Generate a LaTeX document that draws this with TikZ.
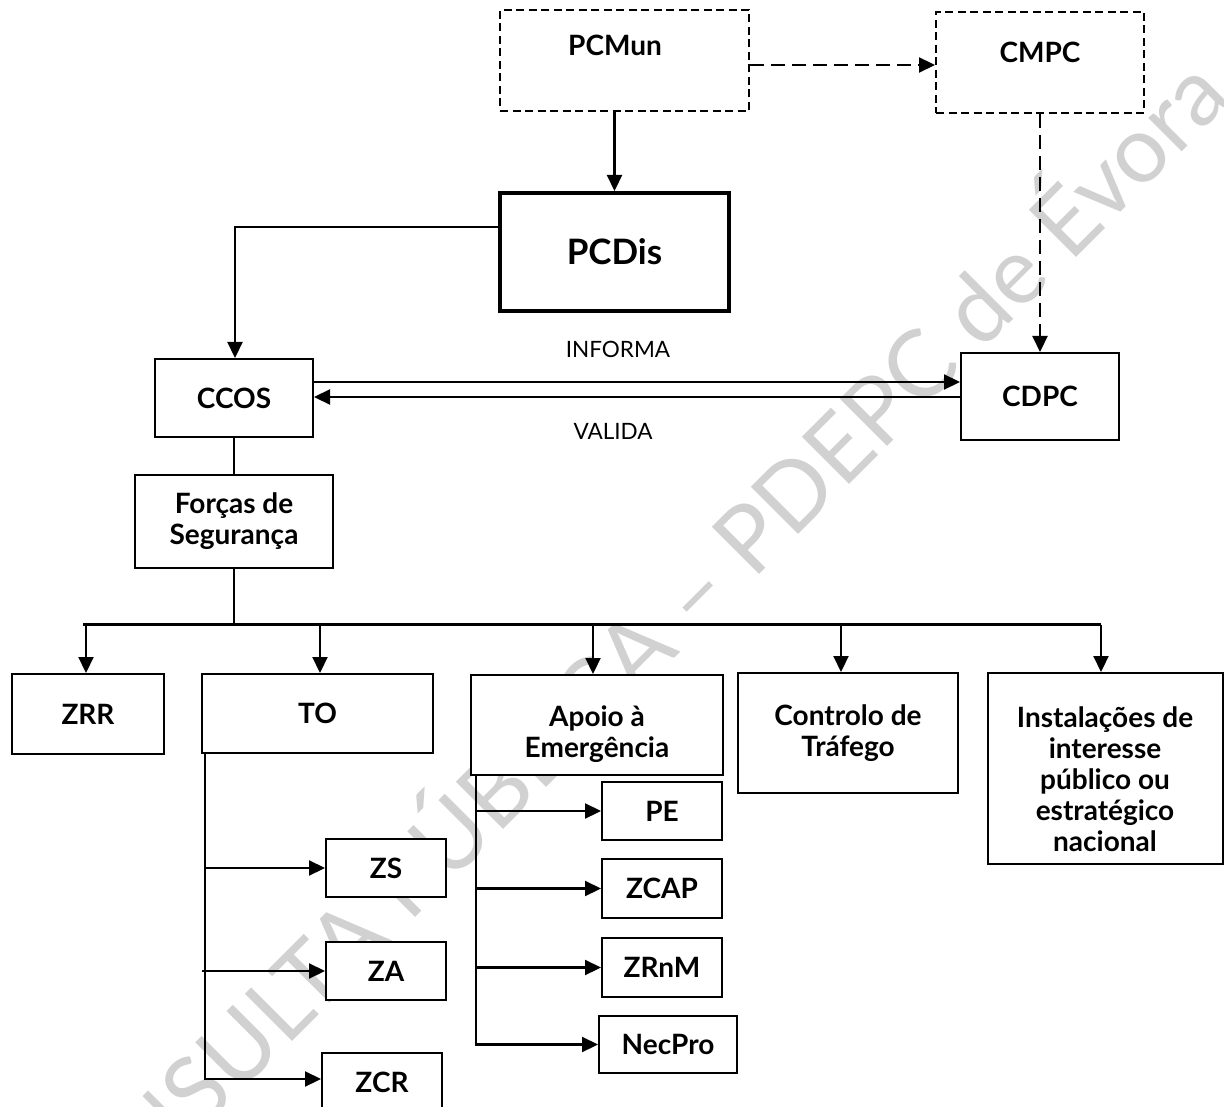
\documentclass[tikz,border=0pt]{standalone}
\usepackage{fontspec}
\setmainfont{Lato}
\usetikzlibrary{arrows.meta,calc}

\tikzset{
  lbl/.style={font=\bfseries\fontsize{28}{31}\selectfont, align=center, inner sep=0pt},
  box/.style={draw, line width=2pt, fill=white, inner sep=0pt, lbl},
  dbox/.style={box, dash pattern=on 8pt off 4.5pt},
  heavybox/.style={box, line width=4pt, font=\bfseries\fontsize{35}{40}\selectfont},
  conn/.style={line width=2.2pt},
  arr/.style={conn, -{Triangle[length=16pt,width=15pt]}},
  darr/.style={arr, dash pattern=on 14pt off 7pt},
  plain/.style={font=\fontsize{22.5}{26}\selectfont, inner sep=0pt},
  watermark/.style={text=black!18, inner sep=0pt, rotate=45}
}

\begin{document}
\begin{tikzpicture}[x=1pt, y=-1pt]
  \useasboundingbox (0,0) rectangle (1224,1107);
  \clip (0,0) rectangle (1224,1107);
  \fill[white] (0,0) rectangle (1224,1107);

  % watermark across the sheet
  \node[watermark] (wm) at (614,659)
    {\resizebox{1665pt}{!}{CONSULTA PÚBLICA – PDEPC de Évora}};

  % top level
  \node[dbox, minimum width=249pt, minimum height=101pt,
        label={[lbl, xshift=-9.5pt, yshift=15.5pt]center:PCMun}] (pcmun) at (624.5,60.5) {};
  \node[dbox, minimum width=208pt, minimum height=101pt,
        label={[lbl, yshift=10.5pt]center:CMPC}] (cmpc) at (1040,62.5) {};
  \node[heavybox, minimum width=229pt, minimum height=118pt] (pcdis) at (614.5,252) {PCDis};

  % coordination level
  \node[box, minimum width=158pt, minimum height=78pt] (ccos) at (234,398) {CCOS};
  \node[box, minimum width=158pt, minimum height=87pt] (cdpc) at (1040,396.5) {CDPC};
  \node[box, minimum width=198pt, minimum height=93pt] (forcas) at (234,521.5) {Forças de\\Segurança};

  % operational areas
  \node[box, minimum width=152pt, minimum height=80pt] (zrr) at (88,714) {ZRR};
  \node[box, minimum width=231pt, minimum height=79pt] (to) at (317.5,713.5) {TO};
  \node[box, minimum width=252pt, minimum height=100pt,
        label={[lbl, yshift=-9.5pt]center:Apoio à\\Emergência}] (apoio) at (597,725) {};
  \node[box, minimum width=220pt, minimum height=120pt] (controlo) at (848,733) {Controlo de\\Tráfego};
  \node[box, minimum width=235pt, minimum height=191pt,
        label={[lbl, yshift=-10.5pt]center:Instalações de\\interesse\\público ou\\estratégico\\nacional}] (instal) at (1105,768.5) {};

  % zones of the theatre of operations
  \node[box, minimum width=120pt, minimum height=58pt] (zs) at (386,868) {ZS};
  \node[box, minimum width=120pt, minimum height=58pt] (za) at (386,971) {ZA};
  \node[box, minimum width=120pt, minimum height=58pt] (zcr) at (382,1082) {ZCR};

  % emergency support
  \node[box, minimum width=120pt, minimum height=58pt] (pe) at (662,811) {PE};
  \node[box, minimum width=120pt, minimum height=59pt] (zcap) at (662,888.5) {ZCAP};
  \node[box, minimum width=120pt, minimum height=59pt] (zrnm) at (662,967.5) {ZRnM};
  \node[box, minimum width=138pt, minimum height=57pt] (necpro) at (668,1044.5) {NecPro};

  % link labels
  \node[plain] (informa) at (618,349) {INFORMA};
  \node[plain] (valida) at (613,431) {VALIDA};

  % helper levels
  \coordinate (ylink) at (0,65);
  \coordinate (ycorner) at (0,227);
  \coordinate (yinf) at (0,382);
  \coordinate (yval) at (0,397);
  \coordinate (busL) at (83,624.5);
  \coordinate (busR) at (1101,624.5);
  \coordinate (totrunk) at ([xshift=4pt]to.south west);
  \coordinate (aptrunk) at ([xshift=6pt]apoio.south west);

  % upper links
  \draw[darr] (pcmun.east |- ylink) -- (cmpc.west |- ylink);
  \draw[arr] (pcdis.north |- pcmun.south) -- (pcdis.north);
  \draw[darr] (cmpc.south) -- (cdpc.north);
  \draw[arr] (pcdis.west |- ycorner) -| ([xshift=1pt]ccos.north);
  \draw[arr] (ccos.east |- yinf) -- (cdpc.west |- yinf);
  \draw[arr] (cdpc.west |- yval) -- (ccos.east |- yval);
  \draw[conn] (ccos.south) -- (forcas.north);

  % distribution bus
  \draw[conn] (forcas.south) -- (forcas.south |- busL);
  \draw[conn] (busL) -- (busR);
  \draw[arr] ([xshift=-2pt]zrr.north |- busL) -- ([xshift=-2pt]zrr.north);
  \draw[arr] ([xshift=2.5pt]to.north |- busL) -- ([xshift=2.5pt]to.north);
  \draw[arr] ([xshift=-4pt]apoio.north |- busL) -- ([xshift=-4pt]apoio.north);
  \draw[arr] ([xshift=-7pt]controlo.north |- busL) -- ([xshift=-7pt]controlo.north);
  \draw[arr] (busR) -- (busR |- instal.north);

  % theatre of operations branches
  \draw[arr] (totrunk) |- ([yshift=3pt]zcr.west);
  \draw[arr] (totrunk |- zs.west) -- (zs.west);
  \draw[arr] ([xshift=-3pt]totrunk |- za.west) -- (za.west);

  % emergency support branches
  \draw[arr] (aptrunk) |- (necpro.west);
  \draw[arr] (aptrunk |- pe.west) -- (pe.west);
  \draw[arr] (aptrunk |- zcap.west) -- (zcap.west);
  \draw[arr] (aptrunk |- zrnm.west) -- (zrnm.west);
\end{tikzpicture}
\end{document}
